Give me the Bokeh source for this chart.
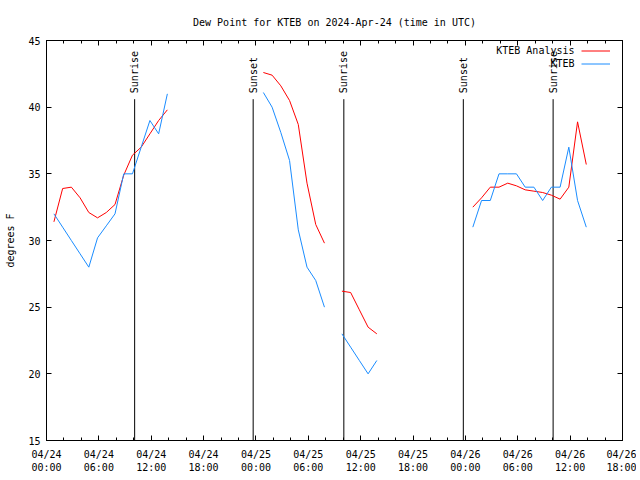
import math
from bokeh.plotting import figure
from bokeh.models import (Range1d, FixedTicker, LinearAxis, CustomJSTickFormatter,
                          Legend, LegendItem, Label, ColumnDataSource)
from bokeh.embed import file_html
from bokeh.resources import INLINE
from bokeh.core.properties import value

FONT = "DejaVu Sans Mono"

# observation hours after 2024-04-24 00:00 UTC (obs taken at :51 past the hour)
OBS_MINUTE = 51
red_hours = [0, 1, 2, 3, 4, 5, 6, 7, 8, 9, 10, 11, 12, 13,
             None,
             24, 25, 26, 27, 28, 29, 30, 31,
             None,
             33, 34, 35, 36, 37,
             None,
             48, 49, 50, 51, 52, 53, 54, 55, 56, 57, 58, 59, 60, 61]
red_vals = [31.4, 33.9, 34.0, 33.2, 32.1, 31.7, 32.1, 32.7, 34.9, 36.4, 37.0, 38.0, 39.0, 39.8,
            None,
            42.6, 42.4, 41.6, 40.5, 38.7, 34.3, 31.2, 29.8,
            None,
            26.2, 26.1, 24.8, 23.5, 23.0,
            None,
            32.5, 33.2, 34.0, 34.0, 34.3, 34.1, 33.8, 33.7, 33.6, 33.4, 33.1, 34.0, 38.9, 35.7]
blue_vals = [32.0, 31.0, 30.0, 29.0, 28.0, 30.2, 31.1, 32.0, 35.0, 35.0, 37.0, 39.0, 38.0, 41.0,
             None,
             41.1, 40.0, 38.1, 36.0, 30.8, 28.0, 27.0, 25.0,
             None,
             23.0, 22.0, 21.0, 20.0, 21.0,
             None,
             31.0, 33.0, 33.0, 35.0, 35.0, 35.0, 34.0, 34.0, 33.0, 34.0, 34.0, 37.0, 33.0, 31.0]

# sun events (hours after 2024-04-24 00:00 UTC)
sun_hours = [10.1, 23.68, 34.07, 47.76, 58.05]
sun_labels = ["Sunrise", "Sunset", "Sunrise", "Sunset", "Sunrise"]

tick_hours = [0, 6, 12, 18, 24, 30, 36, 42, 48, 54, 60, 66]
tick_labels = ["04/24\n00:00", "04/24\n06:00", "04/24\n12:00", "04/24\n18:00",
               "04/25\n00:00", "04/25\n06:00", "04/25\n12:00", "04/25\n18:00",
               "04/26\n00:00", "04/26\n06:00", "04/26\n12:00", "04/26\n18:00"]
minor_hours = list(range(0, 67, 2))
y_ticks = [15, 20, 25, 30, 35, 40, 45]

nan = float("nan")
xs = [nan if h is None else h + OBS_MINUTE / 60.0 for h in red_hours]
yr = [nan if v is None else v for v in red_vals]
yb = [nan if v is None else v for v in blue_vals]

RED = "#ff0000"
BLUE = "#1a8cff"

p = figure(width=636, height=478, output_backend="svg", toolbar_location=None,
           x_range=Range1d(0, 66), y_range=Range1d(15, 45),
           min_border_left=46, min_border_right=14, min_border_top=40, min_border_bottom=38)
p.title.text = "Dew Point for KTEB on 2024-Apr-24 (time in UTC)"
p.title.text_font = FONT
p.title.text_font_size = "10px"
p.title.text_font_style = "normal"
p.title.text_color = "black"
p.title.align = "center"
p.title.standoff = 26

p.xgrid.visible = False
p.ygrid.visible = False
p.outline_line_color = "black"
p.background_fill_color = "white"
p.border_fill_color = "white"

xa = p.xaxis[0]
xa.ticker = FixedTicker(ticks=tick_hours, minor_ticks=minor_hours)
xa.major_label_overrides = {h: lab for h, lab in zip(tick_hours, tick_labels)}
ya = p.yaxis[0]
ya.ticker = FixedTicker(ticks=y_ticks, minor_ticks=[])
ya.axis_label = "degrees F"
ya.axis_label_text_font = FONT
ya.axis_label_text_font_size = "10px"
ya.axis_label_text_font_style = "normal"
ya.axis_label_text_color = "black"
ya.axis_label_standoff = 9

for ax in (xa, ya):
    ax.major_tick_in = 5
    ax.major_tick_out = 0
    ax.minor_tick_in = 3
    ax.minor_tick_out = 0
    ax.major_label_text_font = FONT
    ax.major_label_text_font_size = "10px"
    ax.major_label_text_color = "black"
    ax.axis_line_color = "black"
    ax.major_tick_line_color = "black"
    ax.minor_tick_line_color = "black"
xa.major_label_standoff = 8
ya.major_label_standoff = 6

blank = CustomJSTickFormatter(code="return ''")
top = LinearAxis(ticker=FixedTicker(ticks=tick_hours, minor_ticks=minor_hours), formatter=blank,
                 major_tick_in=5, major_tick_out=0, minor_tick_in=3, minor_tick_out=0,
                 major_label_standoff=0)
right = LinearAxis(ticker=FixedTicker(ticks=y_ticks, minor_ticks=[]), formatter=blank,
                   major_tick_in=5, major_tick_out=0, minor_tick_in=0, minor_tick_out=0,
                   major_label_standoff=0)
p.add_layout(top, "above")
p.add_layout(right, "right")

# sunrise / sunset markers
sun_src = ColumnDataSource(dict(x=sun_hours, y0=[15] * len(sun_hours), y1=[40.6] * len(sun_hours),
                                ty=[41.05] * len(sun_hours), lab=sun_labels))
p.segment(x0="x", y0="y0", x1="x", y1="y1", source=sun_src, line_color="black", line_width=1)
p.text(x="x", y="ty", text="lab", source=sun_src, angle=math.pi / 2,
       text_align="left", text_baseline="middle", text_font=value(FONT),
       text_font_size="10px", text_color="black")

r_red = p.line(xs, yr, line_color=RED, line_width=1)
r_blue = p.line(xs, yb, line_color=BLUE, line_width=1)

legend = Legend(items=[LegendItem(label=" ", renderers=[r_red]),
                       LegendItem(label=" ", renderers=[r_blue])],
                location=(535, 370), glyph_width=29, glyph_height=13,
                label_height=13, label_width=0, label_standoff=0, spacing=0,
                padding=0, margin=0, border_line_color=None, background_fill_alpha=0,
                label_text_font_size="10px")
p.add_layout(legend, "center")
for txt, yy in (("KTEB Analysis", 390), ("KTEB", 377)):
    p.add_layout(Label(x=528, y=yy, x_units="screen", y_units="screen", text=txt,
                       text_align="right", text_baseline="middle", text_font=FONT,
                       text_font_size="10px", text_color="black"))

open("out.html", "w").write(file_html(p, INLINE))
